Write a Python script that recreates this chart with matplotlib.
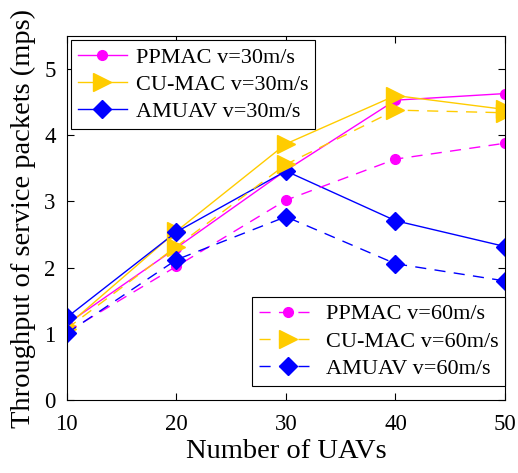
import matplotlib
matplotlib.use("Agg")
import matplotlib.pyplot as plt

uavs = [10, 20, 30, 40, 50]

ppmac_30 = [1.15, 2.30, 3.47, 4.53, 4.63]
cumac_30 = [1.12, 2.55, 3.87, 4.60, 4.39]
amuav_30 = [1.25, 2.54, 3.46, 2.71, 2.32]

ppmac_60 = [1.03, 2.02, 3.02, 3.64, 3.88]
cumac_60 = [1.08, 2.32, 3.56, 4.38, 4.34]
amuav_60 = [1.01, 2.12, 2.77, 2.06, 1.80]

plt.rcParams['font.family'] = ['Liberation Serif', 'DejaVu Serif']

magenta = '#FF00FF'
gold = '#FFCC00'
blue = '#0000FF'

fig = plt.figure(figsize=(5.18, 4.73), dpi=100)
ax = fig.add_axes([0.129, 0.154, 0.846, 0.770])

h1, = ax.plot(uavs, ppmac_30, '-', color=magenta, marker='o', ms=7, lw=1.0, label='PPMAC v=30m/s')
h2, = ax.plot(uavs, cumac_30, '-', color=gold, marker='>', ms=13, lw=1.0, label='CU-MAC v=30m/s')
h3, = ax.plot(uavs, amuav_30, '-', color=blue, marker='D', ms=9, lw=1.0, label='AMUAV v=30m/s')
h4, = ax.plot(uavs, ppmac_60, '--', color=magenta, marker='o', ms=7, lw=1.0, dashes=(8, 6), label='PPMAC v=60m/s')
h5, = ax.plot(uavs, cumac_60, '--', color=gold, marker='>', ms=13, lw=1.0, dashes=(8, 6), label='CU-MAC v=60m/s')
h6, = ax.plot(uavs, amuav_60, '--', color=blue, marker='D', ms=9, lw=1.0, dashes=(8, 6), label='AMUAV v=60m/s')

ax.set_xlim(10, 50)
ax.set_ylim(0, 5.5)
ax.set_xticks(uavs)
ax.set_yticks([0, 1, 2, 3, 4, 5])
ax.tick_params(direction='in', top=True, right=True, labelsize=16.5, length=5, width=0.8)
ax.tick_params(axis='x', pad=10)
ax.tick_params(axis='y', pad=8)
ax.set_xlabel('Number of UAVs', fontsize=20.5, labelpad=3)
ax.set_ylabel('Throughput of service packets (mps)', fontsize=20.5, labelpad=6)

leg1 = ax.legend(handles=[h1, h2, h3], loc='upper left', fontsize=16, fancybox=False,
                 edgecolor='black', framealpha=1, borderpad=0.3, labelspacing=0.3,
                 handlelength=2.2, handletextpad=0.4, borderaxespad=0.2)
leg1.get_frame().set_linewidth(0.8)
ax.add_artist(leg1)
leg2 = ax.legend(handles=[h4, h5, h6], loc='lower right', bbox_to_anchor=(1.0, 0.04),
                 fontsize=16, fancybox=False, edgecolor='black', framealpha=1,
                 borderpad=0.3, labelspacing=0.3, handlelength=2.6, handletextpad=0.4,
                 borderaxespad=0.0)
leg2.get_frame().set_linewidth(0.8)

fig.savefig('out.png', dpi=100)
